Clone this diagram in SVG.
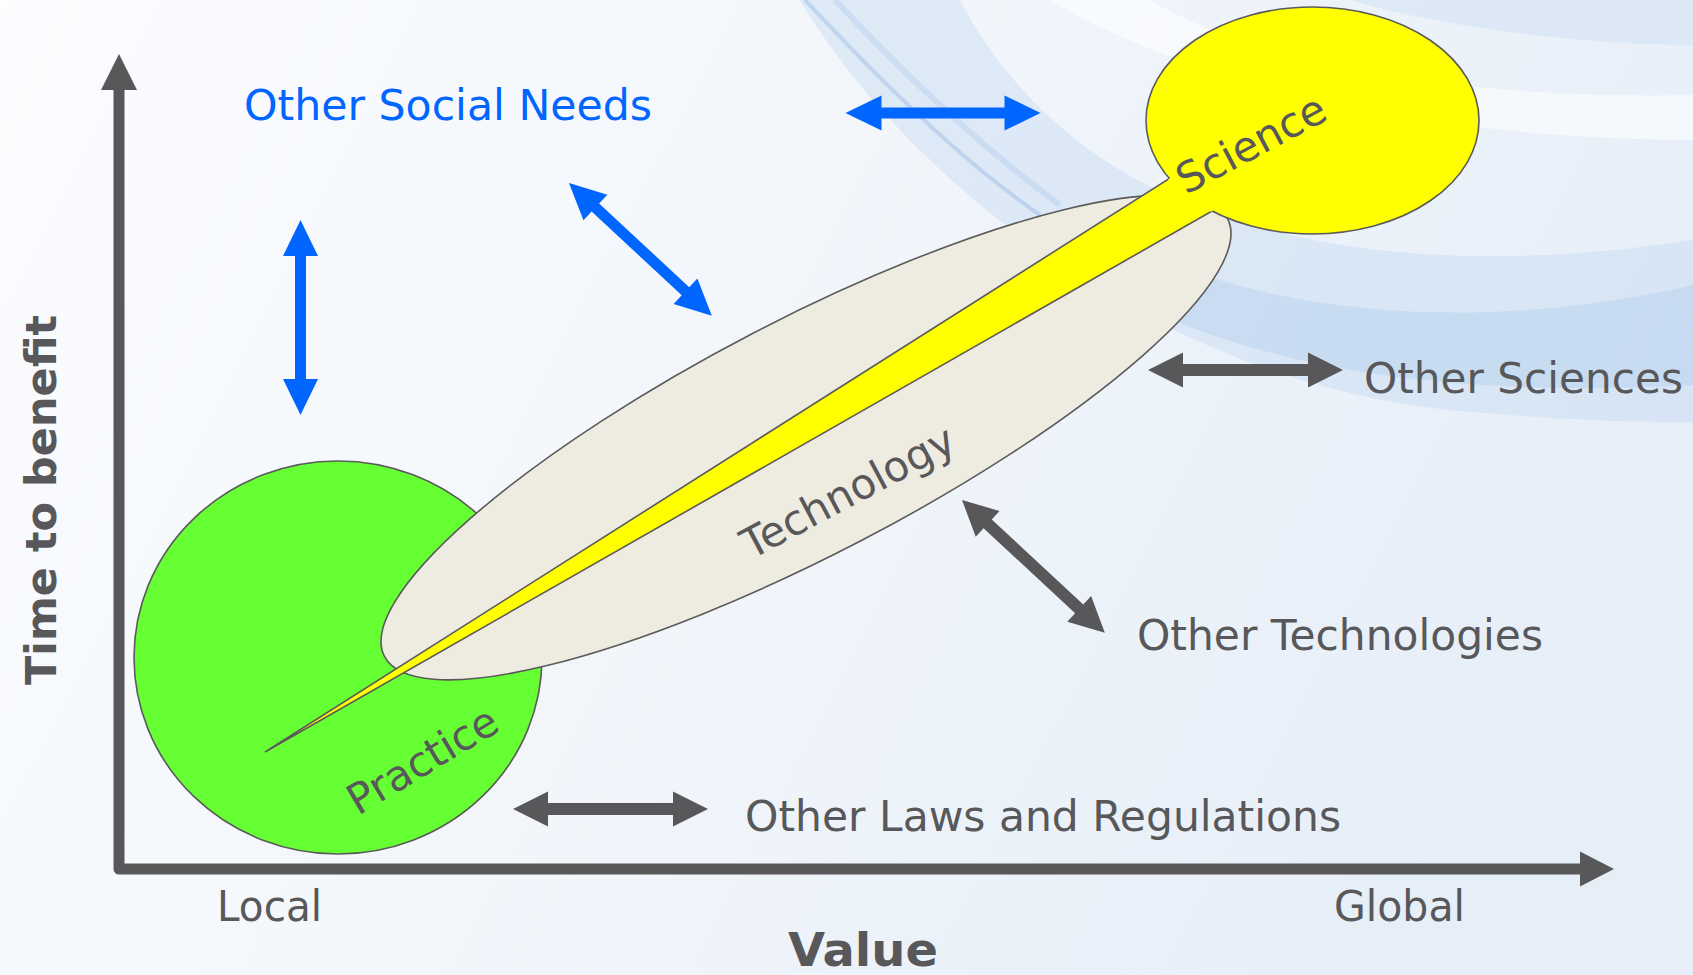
<svg xmlns="http://www.w3.org/2000/svg" xmlns:xlink="http://www.w3.org/1999/xlink" width="1693" height="975" viewBox="0 0 1693 975">
  <defs>
    <linearGradient id="bgGrad" x1="0" y1="0" x2="1" y2="0.3">
      <stop offset="0" stop-color="#fbfcfe"/>
      <stop offset="0.5" stop-color="#f2f6fb"/>
      <stop offset="1" stop-color="#e6eef8"/>
    </linearGradient>
    <polygon id="arrowBlue" points="0,0 36,-17.5 36,-5.5 159,-5.5 159,-17.5 195,0 159,17.5 159,5.5 36,5.5 36,17.5"/>
    <polygon id="arrowGray" points="0,0 35,-17.5 35,-6 160,-6 160,-17.5 195,0 160,17.5 160,6 35,6 35,17.5"/>
    <clipPath id="sciClip">
      <ellipse cx="1312.5" cy="120.5" rx="168" ry="115"/>
    </clipPath>
  </defs>
  <style>
    .lbl { font-family: "DejaVu Sans", Verdana, sans-serif; font-size: 42px; fill: #58585a; }
    .blue { fill: #0066ff; }
    .bold { font-weight: bold; }
    .outline { stroke: #5a5a5a; stroke-width: 1.6; }
    .axis { fill: none; stroke: #58585a; stroke-width: 11; stroke-linejoin: round; }
    .axhead { fill: #58585a; }
  </style>

  <!-- background -->
  <rect x="0" y="0" width="1693" height="975" fill="#ffffff"/>
  <rect x="0" y="0" width="1740" height="1020" rx="18" fill="url(#bgGrad)"/>
  <g id="swooshes">
    <path d="M 1350 0 C 1450 30 1600 45 1693 45 L 1693 0 Z" fill="#d3e3f4" opacity="0.6"/>
    <path d="M 800 0 C 900 170 1150 380 1450 410 C 1560 420 1640 423 1693 422 L 1693 240 C 1550 262 1350 272 1180 200 C 1080 160 1000 80 960 0 Z" fill="#bcd5ef" opacity="0.38"/>
    <path d="M 1100 285 C 1250 370 1450 398 1693 385 L 1693 285 C 1500 330 1300 320 1150 255 Z" fill="#a9c9ec" opacity="0.35"/>
    <path d="M 1050 0 C 1200 90 1450 140 1693 140 L 1693 95 C 1450 100 1250 60 1150 0 Z" fill="#ffffff" opacity="0.55"/>
    <path d="M 805 0 C 880 80 960 160 1040 215" fill="none" stroke="#9fc0e6" stroke-width="4" opacity="0.5"/>
    <path d="M 835 0 C 905 75 985 150 1060 205" fill="none" stroke="#b3cfee" stroke-width="6" opacity="0.45"/>
  </g>

  <!-- axes -->
  <g id="axes">
    <path class="axis" d="M 119 86 L 119 869 L 1582 869"/>
    <polygon class="axhead" points="119,54 137,90 101,90"/>
    <polygon class="axhead" points="1614,869 1580,851.5 1580,886.5"/>
    <text class="lbl" x="217" y="921" textLength="105" lengthAdjust="spacingAndGlyphs">Local</text>
    <text class="lbl" x="1334" y="921" textLength="131" lengthAdjust="spacingAndGlyphs">Global</text>
    <text class="lbl bold" x="788" y="966" style="font-size:47px" textLength="150" lengthAdjust="spacingAndGlyphs">Value</text>
    <text class="lbl bold" x="0" y="0" text-anchor="middle" transform="translate(56 500) rotate(-90)" style="font-size:43px">Time to benefit</text>
  </g>

  <!-- Practice node -->
  <g id="practice">
    <ellipse class="outline" cx="338" cy="657.5" rx="204" ry="196.5" fill="#66ff33"/>
    <text class="lbl" x="0" y="0" transform="translate(358 816) rotate(-31)">Practice</text>
  </g>

  <!-- Technology node -->
  <g id="technology">
    <ellipse class="outline" cx="806" cy="437.5" rx="475" ry="117" fill="#eeebe0" transform="rotate(-27.45 806 437.5)"/>
    <text class="lbl" x="0" y="0" transform="translate(751 560) rotate(-28)">Technology</text>
  </g>

  <!-- Science node -->
  <g id="science">
    <path class="outline" d="M 265 752 L 1230 140 L 1262 182.5 Z" fill="#ffff00" stroke-linejoin="miter"/>
    <ellipse class="outline" cx="1312.5" cy="120.5" rx="166.5" ry="113.5" fill="#ffff00"/>
    <path d="M 265 752 L 1230 140 L 1262 182.5 Z" fill="#ffff00" clip-path="url(#sciClip)"/>
    <text class="lbl" x="0" y="0" transform="translate(1186 195) rotate(-28)">Science</text>
  </g>

  <!-- connectors -->
  <g id="connectors">
    <use xlink:href="#arrowBlue" href="#arrowBlue" fill="#0066ff" transform="translate(300.5 220) rotate(90)"/>
    <use xlink:href="#arrowBlue" href="#arrowBlue" fill="#0066ff" transform="translate(569 183) rotate(42.9)"/>
    <use xlink:href="#arrowBlue" href="#arrowBlue" fill="#0066ff" transform="translate(845.5 113)"/>
    <use xlink:href="#arrowGray" href="#arrowGray" fill="#58585a" transform="translate(1148 370)"/>
    <use xlink:href="#arrowGray" href="#arrowGray" fill="#58585a" transform="translate(962 500) rotate(42.9)"/>
    <use xlink:href="#arrowGray" href="#arrowGray" fill="#58585a" transform="translate(513 809)"/>
  </g>

  <!-- labels -->
  <g id="labels">
    <text class="lbl blue" x="244" y="120" style="font-size:43px" textLength="408" lengthAdjust="spacingAndGlyphs">Other Social Needs</text>
    <text class="lbl" x="1364" y="393" textLength="319" lengthAdjust="spacingAndGlyphs">Other Sciences</text>
    <text class="lbl" x="1137" y="650" textLength="406" lengthAdjust="spacingAndGlyphs">Other Technologies</text>
    <text class="lbl" x="745" y="831" textLength="596" lengthAdjust="spacingAndGlyphs">Other Laws and Regulations</text>
  </g>
</svg>
